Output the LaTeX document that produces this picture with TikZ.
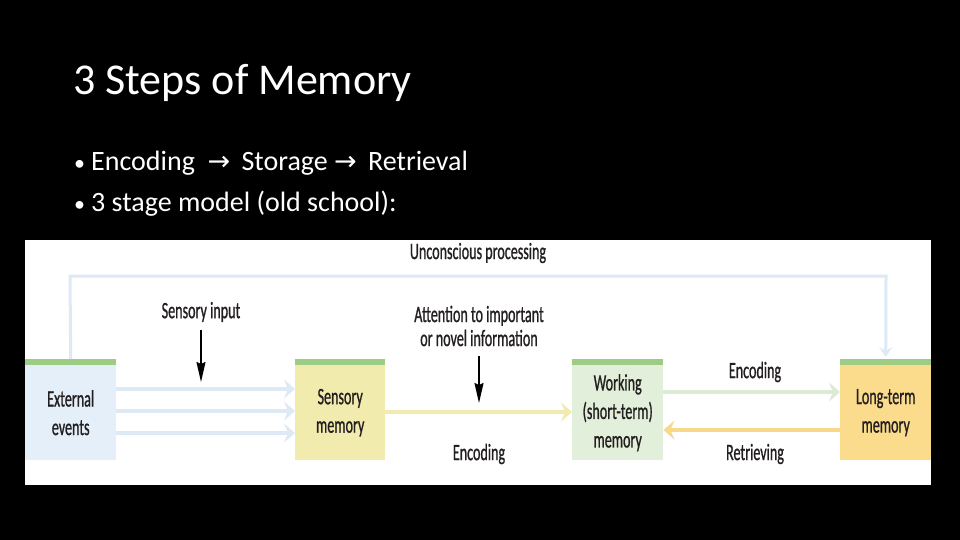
\documentclass[tikz,border=0pt]{standalone}
\usepackage{fontspec}
\setmainfont{Carlito}
\newfontfamily\symf{DejaVu Sans}
\newfontfamily\diagf[FakeStretch=0.6,FakeBold=0.8]{Carlito}
\usetikzlibrary{arrows.meta}
\definecolor{extfill}{HTML}{E4EFF9}
\definecolor{barg}{HTML}{9DCC84}
\definecolor{sensfill}{HTML}{F2EBAE}
\definecolor{workfill}{HTML}{E2EFDA}
\definecolor{ltfill}{HTML}{FBDC8D}
\definecolor{bluearr}{HTML}{DDEAF6}
\definecolor{yelarr}{HTML}{F1EBB0}
\definecolor{grnarr}{HTML}{DDEBD5}
\definecolor{orarr}{HTML}{F8D98C}
\definecolor{dtext}{HTML}{231F20}
\tikzset{
  stagebox/.style={minimum width=91pt, minimum height=95pt, inner sep=0pt, anchor=north west, align=center, font=\diagf\fontsize{23.5}{28.5}\selectfont, text=dtext},
  lbl/.style={font=\diagf\fontsize{23.5}{24}\selectfont, text=dtext, align=center, inner sep=0pt},
  lightarr/.style={line width=4pt, -{Stealth[length=11pt,width=19pt,inset=4pt]}},
  blackarr/.style={line width=1.5pt, draw=black, -{Stealth[length=20pt,width=9pt,inset=2pt]}},
  slidetext/.style={text=white, inner sep=0pt, anchor=base west}
}
\newcommand{\bulletarrow}{{\symf\fontsize{27}{30}\selectfont →}}
\begin{document}
\begin{tikzpicture}[x=1pt,y=-1pt]
\useasboundingbox (0,0) rectangle (960,540);
\fill[black] (0,0) rectangle (960,540);
% slide texts
\node[slidetext, font=\fontsize{44}{50}\selectfont] (title) at (73,95) {3 Steps of Memory};
\node[slidetext, font=\fontsize{28}{32}\selectfont] (b1) at (74,171) {\makebox[17pt][l]{\fontsize{22}{24}\selectfont •}Encoding \ \bulletarrow\hspace{5pt} Storage \bulletarrow\hspace{5pt} Retrieval};
\node[slidetext, font=\fontsize{28}{32}\selectfont] (b2) at (74,211) {\makebox[17pt][l]{\fontsize{22}{24}\selectfont •}3 stage model (old school):};
% white panel
\fill[white] (25,240) rectangle (931,485);
% boxes
\node[stagebox, fill=extfill] (ext) at (25,365) {External\\events};
\node[stagebox, fill=sensfill, minimum width=90pt] (sens) at (295,365) {Sensory\\memory};
\node[stagebox, fill=workfill] (work) at (572,365) {Working\\(short-term)\\memory};
\node[stagebox, fill=ltfill] (lt) at (840,365) {Long-term\\memory};
\foreach \b in {ext,sens,work,lt}{
  \fill[barg] ([yshift=6pt]\b.north west) rectangle (\b.north east);
}
% unconscious processing
\coordinate (uA) at (70,276);
\coordinate (uB) at (886,276);
\draw[bluearr, line width=3pt, -{Stealth[length=10pt,width=13pt,inset=4pt]}] ([yshift=6pt]ext.north) -- (uA) -- (uB) -- ([yshift=8pt]lt.north);
\node[lbl] (unc) at (478,253) {Unconscious processing};
% external -> sensory
\foreach \yy in {389,411,433}{
  \draw[bluearr, lightarr] (ext.east |- 0,\yy) -- (sens.west |- 0,\yy);
}
% sensory input
\node[lbl] (sinput) at (201,312) {Sensory input};
\coordinate (sinEnd) at (201,382);
\draw[blackarr] (201,330) -- (sinEnd);
% sensory -> working
\draw[yelarr, lightarr] (sens.east |- 0,412) -- (work.west |- 0,412);
\node[lbl] (enc1) at (479,454) {Encoding};
\node[lbl] (attn) at (479,326) {Attention to important\\or novel information};
\coordinate (atEnd) at (479,403);
\draw[blackarr] (479,356) -- (atEnd);
% working <-> long-term
\draw[grnarr, lightarr] (work.east |- 0,392) -- (lt.west |- 0,392);
\draw[orarr, lightarr] (lt.west |- 0,430) -- (work.east |- 0,430);
\node[lbl] (enc2) at (755,372) {Encoding};
\node[lbl] (retr) at (755,454) {Retrieving};
\end{tikzpicture}
\end{document}
